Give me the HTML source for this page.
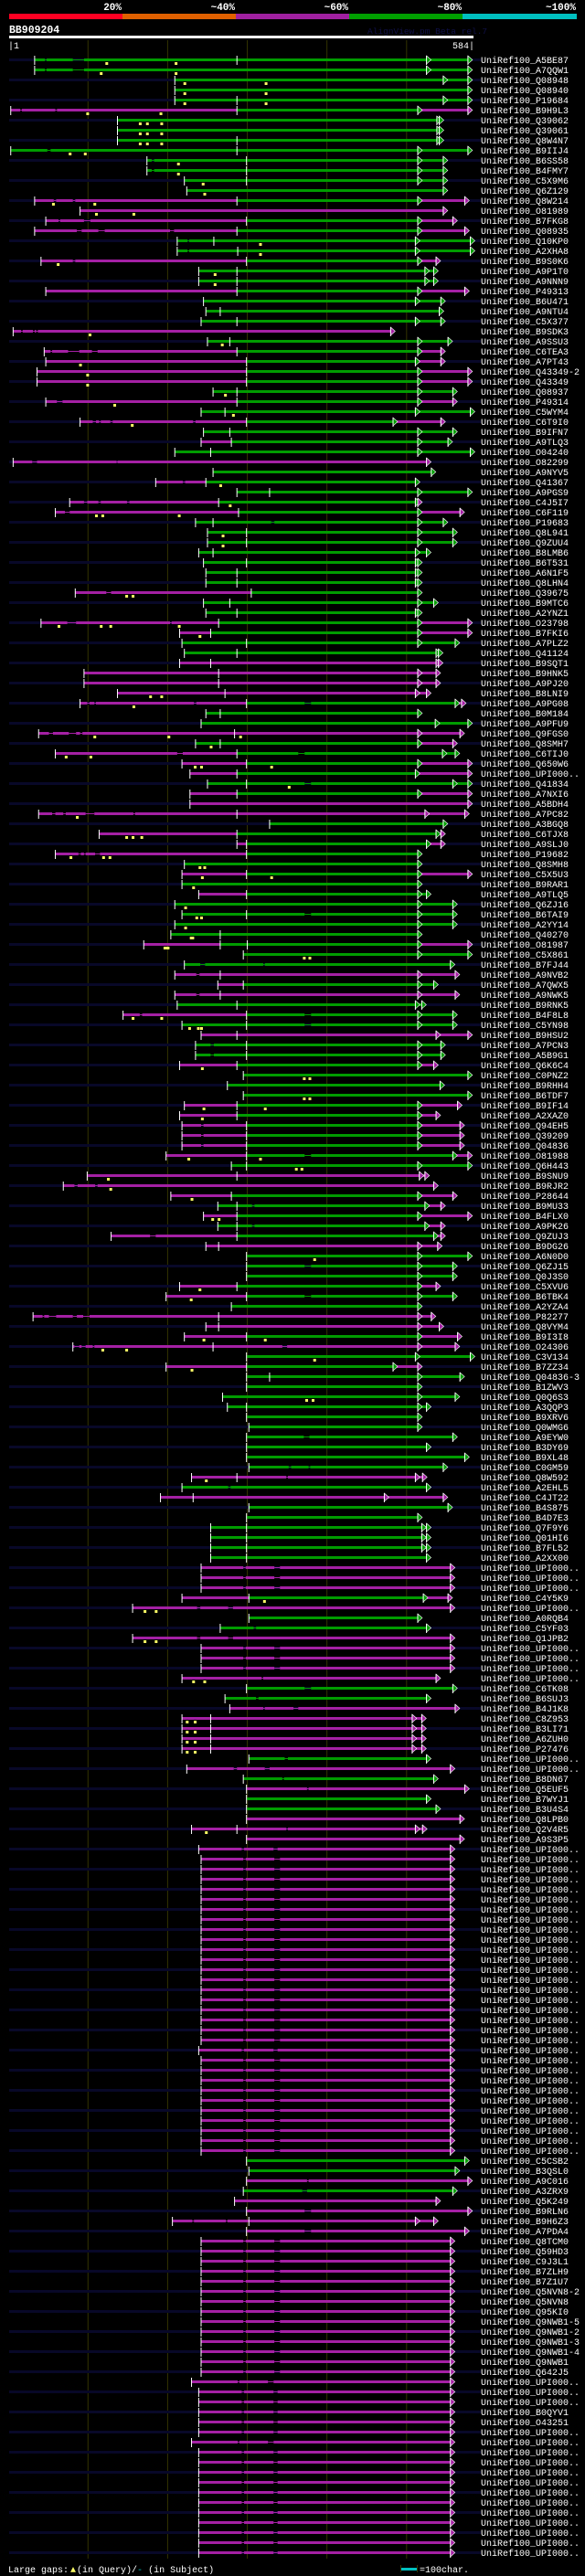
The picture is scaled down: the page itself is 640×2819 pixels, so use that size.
<!DOCTYPE html>
<html><head><meta charset="utf-8"><title>AlignView BB909204</title>
<style>
html,body{margin:0;padding:0;background:#000;}
svg{display:block;}
text{font-family:"Liberation Mono",monospace;}
</style></head>
<body>
<svg id="chart" xmlns="http://www.w3.org/2000/svg" width="640" height="2819" viewBox="0 0 640 2819">
<rect x="0" y="0" width="640" height="2819" fill="#000"/>
<g>
<rect x="10" y="15" width="124" height="6" fill="#ff0022"/>
<rect x="134" y="15" width="124" height="6" fill="#e06000"/>
<rect x="258" y="15" width="124" height="6" fill="#a020a0"/>
<rect x="382" y="15" width="124" height="6" fill="#00a000"/>
<rect x="506" y="15" width="125" height="6" fill="#00c0c0"/>
<g fill="#fff" font-weight="bold" font-size="11" text-anchor="end">
<text x="133" y="11">20%</text>
<text x="257" y="11">~40%</text>
<text x="381" y="11">~60%</text>
<text x="505" y="11">~80%</text>
<text x="630" y="11">~100%</text>
</g>
</g>
<text x="10" y="36" fill="#fff" font-weight="bold" font-size="11.5">BB909204</text>
<text x="402" y="37" fill="#101048" font-size="9.5">AlignView.pm Beta rel.7</text>
<rect x="10" y="39" width="508" height="3" fill="#fff"/>
<text x="9" y="53" fill="#fff" font-size="10">|1</text>
<text x="519" y="53" fill="#fff" font-size="10" text-anchor="end">584|</text>
<g id="grid"></g>
<g id="rows"></g>
<g>
<text x="9" y="2815" fill="#fff" font-size="10">Large gaps:<tspan fill="#ffff66" dx="2">▲</tspan><tspan dx="1">(in Query)/</tspan><tspan fill="#00c0c0">-</tspan><tspan> (in Subject)</tspan></text>
<rect x="439" y="2810" width="17" height="3" fill="#00c0c0"/>
<rect x="438" y="2807" width="1" height="8" fill="#333300"/>
<rect x="456" y="2807" width="1" height="8" fill="#333300"/>
<text x="459" y="2815" fill="#fff" font-size="10">=100char.</text>
</g>
</svg>
<script>
const gridTicks=[100,200,300,400,500];
const U="UPI000..";
const labels=[
"A5BE87","A7QQW1","Q08948","Q08940","P19684","B9H9L3","Q39062","Q39061","Q8W4N7","B9IIJ4",
"B6SS58","B4FMY7","C5X9M6","Q6Z129","Q8W214","O81989","B7FKG8","Q08935","Q10KP0","A2XHA8",
"B9S0K6","A9P1T0","A9NNN9","P49313","B6U471","A9NTU4","C5X377","B9SDK3","A9SSU3","C6TEA3",
"A7PT43","Q43349-2","Q43349","Q08937","P49314","C5WYM4","C6T9I0","B9IFN7","A9TLQ3","O04240",
"O82299","A9NYV5","Q41367","A9PGS9","C4J5I7","C6F119","P19683","Q8L941","Q9ZUU4","B8LMB6",
"B6T531","A6N1F5","Q8LHN4","Q39675","B9MTC6","A2YNZ1","O23798","B7FKI6","A7PLZ2","Q41124",
"B9SQT1","B9HNK5","A9PJ20","B8LNI9","A9PG08","B0M184","A9PFU9","Q9FGS0","Q8SMH7","C6TIJ0",
"Q650W6",U,"Q41834","A7NXI6","A5BDH4","A7PC82","A3BGQ8","C6TJX8","A9SLJ0","P19682",
"Q8SMH8","C5X5U3","B9RAR1","A9TLQ5","Q6ZJ16","B6TAI9","A2YY14","Q40270","O81987","C5X861",
"B7FJ44","A9NVB2","A7QWX5","A9NWK5","B9RNK5","B4F8L8","C5YN98","B9HSU2","A7PCN3","A5B9G1",
"Q6K6C4","C0PNZ2","B9RHH4","B6TDF7","B9IF14","A2XAZ0","Q94EH5","Q39209","Q04836","O81988",
"Q6H443","B9SNU9","B9RJR2","P28644","B9MU33","B4FLX0","A9PK26","Q9ZUJ3","B9DG26","A6N0D0",
"Q6ZJ15","Q0J3S0","C5XVU6","B6TBK4","A2YZA4","P82277","Q8VYM4","B9I3I8","O24306","C3V134",
"B7ZZ34","Q04836-3","B1ZWV3","Q0Q6S3","A3QQP3","B9XRV6","Q0WMG6","A9EYW0","B3DY69","B9XL48",
"C0GM59","Q8W592","A2EHL5","C4JT22","B4S875","B4D7E3","Q7F9Y6","Q01HI6","B7FL52","A2XX00",
U,U,U,"C4Y5K9",U,"A0RQB4","C5YF03","Q1JPB2",U,U,
U,U,"C6TK08","B6SUJ3","B4J1K8","C8Z953","B3LI71","A6ZUH0","P27476",U,
U,"B8DN67","Q5EUF5","B7WYJ1","B3U4S4","Q8LPB0","Q2V4R5","A9S3P5",U,U,
U,U,U,U,U,U,U,U,U,U,
U,U,U,U,U,U,U,U,U,U,
U,U,U,U,U,U,U,U,U,"C5CSB2",
"B3QSL0","A9C016","A3ZRX9","Q5K249","B9RLN6","B9H6Z3","A7PDA4","Q8TCM0","Q59HD3","C9J3L1",
"B7ZLH9","B7Z1U7","Q5NVN8-2","Q5NVN8","Q95KI0","Q9NWB1-5","Q9NWB1-2","Q9NWB1-3","Q9NWB1-4","Q9NWB1",
"Q642J5",U,U,U,"B0QYV1","O43251",U,U,U,U,
U,U,U,U,U,U,U,U,U];
const starts=[
33,33,209,209,209,3,137,137,137,3,
174,174,221,224,33,90,47,33,212,212,
41,239,239,47,245,248,242,6,250,45,
47,36,36,257,47,242,90,245,242,209,
6,257,185,287,77,59,235,250,250,239,
245,248,248,84,245,248,41,215,218,221,
215,95,95,137,90,248,242,38,235,59,
218,228,250,228,228,38,328,114,287,59,
221,218,218,239,209,218,209,204,170,295,
221,209,263,209,212,144,218,242,235,235,
215,295,275,295,221,215,218,218,218,198,
280,99,69,204,263,245,263,129,248,299,
299,299,215,198,280,31,248,221,81,299,
198,299,299,269,275,299,302,299,299,299,
302,230,218,191,302,299,254,254,254,254,
242,242,242,218,156,302,266,156,242,242,
242,218,299,272,278,218,218,218,218,302,
224,295,299,299,299,299,230,299,239,242,
242,242,242,242,242,242,242,242,242,242,
242,242,242,242,242,242,242,242,239,242,
242,242,242,242,242,242,242,242,242,299,
302,299,295,284,299,206,299,242,242,242,
242,242,242,242,242,242,242,242,242,242,
242,230,239,239,239,239,239,230,239,239,
239,239,239,239,239,239,239,239,239];
const S="p295 x298 p334 x341 p555", T="p293 x296 p333 x338 p555", R="p288 x290 p326 x333 p555";
const spans=[
"g46 x48 g81 x95 g577","g46 x48 g81 x95 g577","g577","g577","g577","p15 x17 p59 x61 p287 g514 p577","g541","g541","g541","g49 x53 g577",
"g180 x183 g546","g180 x183 g546","g546","g546","p57 x60 p81 x84 p287 g514 p573","p546","p63 x65 p95 x103 p299 g514 p558","p86 x92 p113 x121 p203 x208 p287 g514 p573","g225 x227 g580","g225 x227 g580",
"p81 x84 p299 g514 p537","g534","g534","p287 g514 p573","g543","g541","g543","p16 x18 p31 x33 p35 x37 p480","g552","p53 x55 p75 x89 p105 x112 p287 g514 p543",
"p299 g511 p543","p299 g514 p577","p299 g514 p577","g558","p61 x68 p287 g514 p558","g580","p106 x110 p114 x116 p128 x131 p232 x235 p299 g483 p543","g558","p280 g552","g580",
"p30 x36 p136 x137 p525","g531","p219 x222 p248 g511","g577","p95 x99 p113 x116 p149 x152 p264 g511 p514","p71 x77 p289 g514 p567","g330 x334 g546","g558","g558","g525",
"g514","g514","g514","p123 x129 p305 g514","g534","g514","p74 x85 p203 x205 p264 g514 p577","p254 g514 p577","g561","g540",
"p540","p537","p537","p525","p99 x102 p108 x110 p233 x236 p299 g372 x380 g561 p569","g514","g577","p51 x56 p76 x85 p90 x93 p567","g514 p558","p212 x219 p287 g364 x372 g561",
"p299 g514 p577","p287 g511 p577","g372 x380 g577","p287 g514 p577","p577","p55 x59 p69 x72 p97 x108 p157 x159 p573","g546","p287 g537 p543","p299 g525 p543","p88 x91 p95 x97 p109 x115 p299 g514",
"g514","p299 g514 p577","g514","p299 g525","g558","g372 x380 g558","g558","g514","p266 g514 p577","g577",
"g241 x247 g320 x322 g555","p236 x240 p561","p295 g534","p236 x240 p561","g519","p165 x168 p299 g372 x380 g558","g372 x380 g558","p577","g254 x258 g543","g254 x258 g543",
"p287 g514 p534","g577","g542","g577","p287 g514 p564","p287 g514 p537","p242 x245 p299 g514 p567","p242 x245 p299 g514 p567","p242 x245 p299 g514 p567","p299 g372 x380 g558 p577",
"g577","p523","p83 x87 p109 x112 p534","p280 g514 p558","g306 x309 g523 p543","p287 g514 p577","g306 x309 g523 p543","p178 x185 p287 g534 p543","p539","g577",
"g372 x380 g558","g558","p287 g514 p537","p299 g372 x380 g558","g514","p43 x45 p51 x60 p81 x86 p94 x102 p531","p541","p299 g514 p564","p83 x89 p92 x97 p106 x108 p344 x350 p561","g580",
"p299 g483 p514","g567","g514","g561","g525","g514","g514","g371 x378 g558","g525","g573",
"g352 x355 g377 x379 g546","p349 x351 p520","g276 x279 g525","p472 p546","g552","g514","g525","g525","g525","g525",
S,S,S,"p302 g521 p552","p237 x241 p276 x282 p555","g514","g308 x311 g525","p237 x241 p276 x282 p555",S,S,
S,"p318 x320 p537","g372 x380 g558","g311 x314 g525","p320 x322 p358 x364 p561","p519","p519","p519","p519","g347 x351 g525",
"p283 x287 p322 x328 p555","g344 x346 g534","p375 x377 p573","g525","g537","p567","p349 x351 p520","p567",T,S,
S,S,S,S,S,S,S,S,S,S,
S,S,S,S,S,S,S,S,T,S,
S,S,S,S,S,S,S,S,S,"g573",
"g561","p375 x377 p577","g369 x375 g558","p537","p372 x380 p577","p231 x233 p273 x275 p534","p372 x380 p573",S,S,S,
S,S,S,S,S,S,S,S,S,S,
S,R,T,T,T,T,T,R,T,T,
T,T,T,T,T,T,T,T,T];
const arrowsAt=[
[525,577],[525,577],[546,577],[577],[546,577],[514,577],[538,541],[538,541],[538,541],[514,577],
[514,546],[514,546],[514,546],[546],[514,573],[546],[514,558],[514,573],[511,580],[511,580],
[514,537],[523,534],[523,534],[514,573],[511,543],[541],[511,543],[480],[514,552],[514,543],
[511,543],[514,577],[514,577],[514,558],[514,558],[511,580],[483,543],[514,558],[514,552],[514,580],
[525],[531],[511],[514,577],[511,514],[514,567],[514,546],[514,558],[514,558],[511,525],
[511,514],[511,514],[511,514],[514],[514,534],[511,514],[514,577],[514,577],[514,561],[537,540],
[537,540],[514,537],[514,537],[511,525],[561,569],[514],[536,577],[514,567],[514,558],[545,561],
[514,577],[511,577],[558,577],[514,577],[577],[523,573],[546],[537,543],[525,543],[514],
[514],[514,577],[514],[514,525],[514,558],[514,558],[514,558],[514],[514,577],[514,577],
[555],[514,561],[514,534],[514,561],[511,519],[514,558],[514,558],[537,577],[514,543],[514,543],
[514,534],[577],[542],[577],[514,564],[514,537],[514,567],[514,567],[514,567],[558,577],
[514,577],[516,523],[534],[514,558],[523,543],[514,577],[523,543],[534,543],[514,539],[514,577],
[514,558],[514,558],[514,537],[514,558],[514],[514,531],[514,541],[514,564],[514,561],[511,580],
[483,514],[514,567],[514],[514,561],[514,525],[514],[514],[558],[525],[573],
[546],[511,520],[525],[472,546],[552],[514],[519,525],[519,525],[519,525],[525],
[555],[555],[555],[521,552],[555],[514],[525],[555],[555],[555],
[555],[537],[558],[525],[561],[507,519],[507,519],[507,519],[507,519],[525],
[555],[534],[573],[525],[537],[567],[511,520],[567],[555],[555],
[555],[555],[555],[555],[555],[555],[555],[555],[555],[555],
[555],[555],[555],[555],[555],[555],[555],[555],[555],[555],
[555],[555],[555],[555],[555],[555],[555],[555],[555],[573],
[561],[577],[558],[537],[577],[511,534],[573],[555],[555],[555],
[555],[555],[555],[555],[555],[555],[555],[555],[555],[555],
[555],[555],[555],[555],[555],[555],[555],[555],[555],[555],
[555],[555],[555],[555],[555],[555],[555],[555],[555]];
const ticks=[[0,287],[4,287],[5,287],[8,287],[9,287],[10,299],[11,299],[12,299],[14,287],[16,299],[17,287],[18,258],[19,288],[20,299],[21,287],[22,287],[23,287],[25,266],[26,287],[28,278],[29,287],[30,299],[31,299],[32,299],[33,287],[34,287],[35,272],[36,299],[37,278],[38,280],[39,254],[42,248],[43,328],[44,264],[45,289],[46,257],[47,299],[48,299],[49,257],[50,299],[51,287],[52,287],[53,305],[54,278],[55,287],[56,264],[57,254],[58,299],[59,287],[60,254],[61,264],[62,264],[63,272],[64,299],[65,266],[67,284],[68,266],[69,287],[70,299],[71,287],[72,299],[73,287],[75,287],[77,287],[78,299],[79,299],[81,299],[83,299],[85,299],[87,266],[88,266],[88,300],[91,266],[92,295],[93,266],[94,287],[95,299],[96,299],[97,287],[98,299],[99,299],[100,287],[104,287],[105,287],[106,299],[107,299],[108,299],[109,299],[110,299],[111,287],[113,280],[114,287],[115,287],[116,287],[117,287],[118,264],[122,287],[123,299],[125,264],[126,264],[127,299],[128,257],[130,299],[131,328],[134,299],[141,287],[143,232],[146,299],[147,299],[148,299],[149,299],[153,302],[165,254],[166,254],[167,254],[168,254],[176,287],[215,302]];
const gaps=[[0,123],[0,210],[1,116],[1,210],[2,221],[2,323],[3,221],[3,323],[4,221],[4,323],[5,99],[5,191],[6,165],[6,174],[6,192],[7,165],[7,174],[7,192],[8,165],[8,174],[8,192],[9,77],[9,96],[10,213],[11,213],[12,244],[13,246],[14,56],[14,108],[15,110],[15,157],[18,316],[19,316],[20,62],[21,259],[22,259],[27,102],[28,268],[30,90],[31,99],[32,99],[33,272],[34,133],[35,282],[36,155],[42,266],[44,278],[45,110],[45,118],[45,214],[47,269],[48,269],[53,148],[53,156],[56,63],[56,116],[56,128],[56,214],[57,240],[63,178],[63,192],[64,157],[67,108],[67,201],[67,291],[68,254],[69,72],[69,103],[70,234],[70,242],[70,330],[72,352],[75,86],[77,148],[77,156],[77,167],[79,78],[79,119],[79,127],[80,240],[80,246],[81,243],[81,330],[82,232],[84,222],[85,236],[85,242],[86,222],[87,229],[87,231],[88,196],[88,198],[88,200],[89,371],[89,378],[95,156],[95,192],[96,227],[96,238],[96,242],[100,243],[101,371],[101,378],[103,371],[103,378],[104,245],[104,322],[105,243],[109,226],[109,316],[110,361],[110,368],[111,125],[112,128],[113,230],[115,256],[115,264],[119,384],[122,240],[123,229],[127,245],[127,322],[128,118],[128,148],[129,384],[130,230],[133,374],[133,382],[141,248],[153,321],[154,171],[154,185],[157,171],[157,185],[161,232],[161,246],[165,224],[165,234],[166,224],[166,234],[167,224],[167,234],[168,224],[168,234],[176,248]];

const NS="http://www.w3.org/2000/svg";
const COL={p:"#a420a4",g:"#009c00"};
function X(pos){return 10+(pos-1)*508/583;}
function Y(i){return 65+11*i;}
function mk(tag,attrs,parent){const e=document.createElementNS(NS,tag);for(const k in attrs)e.setAttribute(k,attrs[k]);parent.appendChild(e);return e;}

const grid=document.getElementById('grid');
gridTicks.forEach(function(t){
  const l=mk('rect',{x:X(t)-0.5,y:44,width:1,height:2756,fill:'#333300'},grid);
  
  
});

const rowsG=document.getElementById('rows');
labels.forEach(function(lab,i){
  const y=Y(i);
  const g=mk('g',{},rowsG);
  
  
  if(i%2===0){
    const n=mk('rect',{x:10,y:y-1,width:516,height:3,fill:'#080828'},g);
    
    
  }
  let cur=starts[i];
  const segs=[];
  spans[i].split(' ').forEach(function(tok){
    const c=tok[0],e=parseFloat(tok.slice(1));
    if(c==='x'){
      const r=mk('rect',{x:X(cur),y:y,width:Math.max(1,X(e)-X(cur)),height:1,fill:segs.length?COL[segs[segs.length-1].c]:COL.p},g);
      
      
    }else{
      const r=mk('rect',{x:X(cur),y:y-1,width:Math.max(1,X(e)-X(cur)),height:3,fill:COL[c]},g);
      
      
      segs.push({s:cur,e:e,c:c});
    }
    cur=e;
  });
  const st=mk('rect',{x:X(starts[i])-0.5,y:y-4,width:1,height:10,fill:'#fff'},g);
  
  
  arrowsAt[i].forEach(function(p){
    let c='g';
    for(const s of segs){ if(s.e>=p-0.01){c=s.c;break;} }
    const x=X(p);
    const a=mk('polygon',{points:(x)+','+(y-4)+' '+(x+5)+','+(y+0.5)+' '+(x)+','+(y+5),fill:COL[c],stroke:'#fff','stroke-width':0.6},g);
    
    
    const w=mk('rect',{x:x-0.5,y:y-4,width:1,height:10,fill:'#fff'},g);
    
    
  });
  const t=mk('text',{x:526,y:y+4,fill:'#fff','font-size':10},g);
  t.textContent='UniRef100_'+lab;
  
  
});
ticks.forEach(function(tk){
  const y=Y(tk[0]);
  const r=mk('rect',{x:X(tk[1])-0.5,y:y-4,width:1,height:10,fill:'#fff'},rowsG);
  
  
});
gaps.forEach(function(gp){
  const y=Y(gp[0]);
  const r=mk('rect',{x:X(gp[1])-1,y:y+3,width:3,height:3,fill:'#ffff66'},rowsG);
  
  
});
</script>
</body></html>
